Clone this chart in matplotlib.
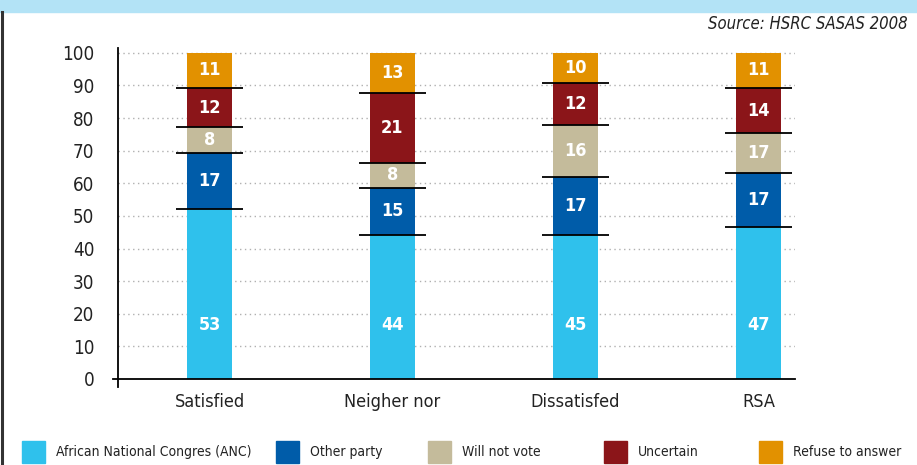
import matplotlib.pyplot as plt
from matplotlib.patches import Rectangle

# Data
categories = ["Satisfied", "Neigher nor", "Dissatisfed", "RSA"]
series = ["African National Congres (ANC)", "Other party", "Will not vote",
          "Uncertain", "Refuse to answer"]
colors = ["#2fc1ec", "#005ca9", "#c4bb9b", "#8b1519", "#e29100"]

# values printed on the bars
anc = [53, 44, 45, 47]
other = [17, 15, 17, 17]
will_not = [8, 8, 16, 17]
uncertain = [12, 21, 12, 14]
refuse = [11, 13, 10, 11]

# segment heights as drawn in the chart (scaled to 100)
anc_h = [52.2, 44.1, 44.0, 46.6]
other_h = [17.1, 14.6, 17.9, 16.4]
will_not_h = [7.8, 7.5, 15.9, 12.3]
uncertain_h = [12.2, 21.5, 12.8, 14.0]
refuse_h = [10.7, 12.3, 9.4, 10.7]

labels = [anc, other, will_not, uncertain, refuse]
heights = [anc_h, other_h, will_not_h, uncertain_h, refuse_h]

plt.rcParams["font.family"] = ["DejaVu Sans"]
plt.rcParams["font.stretch"] = "condensed"

fig = plt.figure(figsize=(9.17, 4.65), dpi=100)
ax = fig.add_axes([0.1287, 0.185, 0.7383, 0.712])

x = list(range(len(categories)))
bar_w = 0.25
bottom = [0.0] * len(categories)
for i, (h, lab) in enumerate(zip(heights, labels)):
    ax.bar(x, h, bar_w, bottom=bottom, color=colors[i], zorder=3)
    for j in x:
        if i == 0:
            ty = 16.5
        else:
            ty = bottom[j] + h[j] / 2
        ax.text(j, ty, str(lab[j]), ha="center", va="center", color="white",
                fontsize=13, fontweight="bold", zorder=5)
    bottom = [b + v for b, v in zip(bottom, h)]
    # black boundary line on top of segment (except the top one)
    if i < len(heights) - 1:
        for j in x:
            ax.plot([j - 0.185, j + 0.185], [bottom[j], bottom[j]],
                    color="black", lw=1.3, zorder=4, solid_capstyle="butt")

ax.set_xlim(-0.5, 3.2)
ax.set_ylim(0, 101.5)
ax.set_yticks(range(0, 101, 10))
ax.set_xticks(x)
ax.set_xticklabels(categories, fontsize=13, color="#222222")
ax.tick_params(axis="y", length=0, pad=17, labelsize=13.5, labelcolor="#222222")
ax.tick_params(axis="x", length=0, pad=10)
for s in ax.spines.values():
    s.set_visible(False)

for yv in range(10, 101, 10):
    ax.axhline(yv, color="#b0b0b0", lw=1.0, ls=(0, (1, 2.5)), zorder=1)

# axis lines
ax.plot([-0.5, -0.5], [-2.5, 101.5], color="black", lw=1.3, clip_on=False, zorder=6)
ax.plot([-0.53, 3.2], [0, 0], color="black", lw=1.3, clip_on=False, zorder=6)

# top banner and left frame line
fig.patches.append(Rectangle((0, 1 - 12 / 465), 1, 12 / 465, transform=fig.transFigure,
                             color="#b3e3f6", zorder=0))
fig.add_artist(plt.Line2D([1.5 / 917, 1.5 / 917], [0, 1 - 12 / 465], color="#333333",
                          lw=2.2, transform=fig.transFigure))

fig.text(908 / 917, 1 - 24 / 465, "Source: HSRC SASAS 2008", ha="right", va="center",
         fontsize=12, style="italic", color="#222222")

# legend
patch_x = [22, 276, 428, 604, 759]
for i, name in enumerate(series):
    fig.patches.append(Rectangle((patch_x[i] / 917, 1 - 463 / 465), 23 / 917, 22 / 465,
                                 transform=fig.transFigure, color=colors[i]))
    fig.text((patch_x[i] + 34) / 917, 1 - 452 / 465, name, ha="left", va="center",
             fontsize=10, color="#222222")

fig.savefig("out.png", dpi=100)
